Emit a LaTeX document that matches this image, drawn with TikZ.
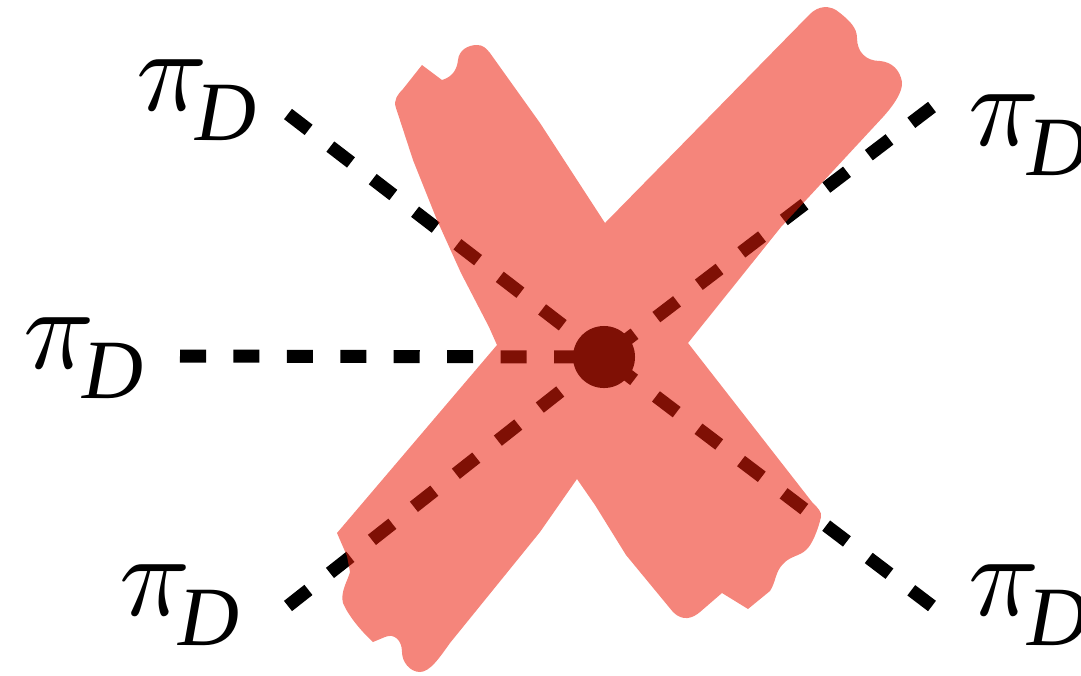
\documentclass[tikz,border=0pt]{standalone}
\usepackage{fontspec}
\newfontfamily\pifont{Liberation Serif}
\definecolor{vxInk}{HTML}{000000}
\definecolor{vxCross}{RGB}{236,30,11}
\tikzset{
  pion/.style   ={vxInk,line width=0.13cm,dash pattern=on 0.26cm off 0.274cm},
  vertex/.style ={circle,fill=vxInk,minimum size=0.62cm,inner sep=0pt},
  lbl/.style    ={inner sep=0pt,anchor=base west},
  cross/.style  ={fill=vxCross,fill opacity=0.54},
}
\newcommand{\piD}{\scalebox{3.35}{$\pi$}\kern-0.13cm\raisebox{-0.30cm}{\pifont\itshape\fontsize{24}{24}\selectfont D}}

\begin{document}
\begin{tikzpicture}[x=0.01cm,y=-0.01cm]
\useasboundingbox (0,0) rectangle (1081,675);
% ── legs ───────────────────────────────────────────────────────────────────
\coordinate (v)   at (604,357);
\coordinate (eUL) at (288,114);
\coordinate (eUR) at (932,107);
\coordinate (eL)  at (180,356);
\coordinate (eLL) at (288,606);
\coordinate (eLR) at (932,606);
\node[lbl] (lUL) at (136,110) {\piD};
\node[lbl] (lUR) at (968,145) {\piD};
\node[lbl] (lL)  at (23,368)  {\piD};
\node[lbl] (lLL) at (119,615) {\piD};
\node[lbl] (lLR) at (968,615) {\piD};
\draw[pion] (eUL) -- (v);
\draw[pion] (eUR) -- (v);
\draw[pion] (eL)  -- (v);
\draw[pion] (eLL) -- (v);
\draw[pion] (eLR) -- (v);
\node[vertex] (dot) at (v) {};

% ── crossed out ────────────────────────────────────────────────────────────
\fill[cross]
  (497,345) -- (489,327) -- (461,273) -- (437,220) -- (413,160) -- (396,108)
  .. controls (393,100) and (398,94) .. (403,89) -- (422,65) -- (442,80)
  .. controls (452,77) and (457,70) .. (458,60)
  .. controls (459,50) and (468,45) .. (477,45)
  .. controls (483,45) and (486,48) .. (490,53) -- (540,123) -- (605,223)
  -- (810,14) .. controls (818,6) and (830,4) .. (840,13)
  .. controls (850,21) and (857,28) .. (857,38)
  .. controls (857,52) and (866,61) .. (880,61)
  .. controls (892,62) and (900,70) .. (902,82)
  .. controls (903,92) and (893,106) .. (883,117) -- (781,227) -- (688,343)
  -- (812,502) .. controls (818,508) and (822,512) .. (821,517)
  .. controls (818,530) and (812,545) .. (806,550)
  .. controls (800,556) and (790,556) .. (783,564)
  .. controls (775,572) and (776,582) .. (770,591) -- (748,609) -- (722,593)
  -- (700,612) .. controls (693,618) and (683,622) .. (673,612)
  -- (626,555) -- (595,505) -- (577,479) -- (540,532) -- (450,643)
  .. controls (440,657) and (430,672) .. (420,672)
  .. controls (410,672) and (402,662) .. (402,652)
  .. controls (402,640) and (394,633) .. (385,637) -- (373,642)
  .. controls (360,630) and (348,615) .. (343,603)
  .. controls (340,592) and (348,580) .. (350,572) -- (347,556) -- (337,533)
  -- cycle;
\end{tikzpicture}
\end{document}
